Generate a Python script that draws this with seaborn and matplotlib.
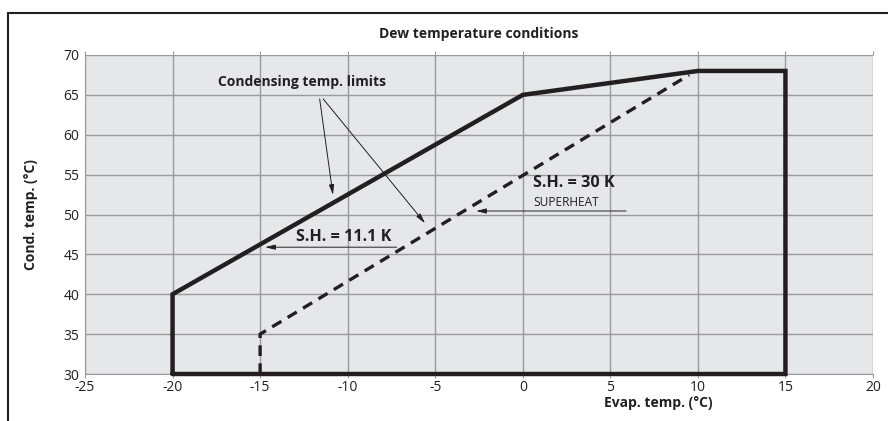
import numpy as np
import pandas as pd
import matplotlib.pyplot as plt
from matplotlib.lines import Line2D
import seaborn as sns

# envelope (solid) and superheat 30 K limit (dashed)
env_evap = [-20, -20, 0, 10, 15, 15, -20]
env_cond = [30, 40, 65, 68, 68, 30, 30]
sh_evap = [-15, -15, 9.5]
sh_cond = [30, 35, 67.5]

x_ticks = [-25, -20, -15, -10, -5, 0, 5, 10, 15, 20]
y_ticks = [30, 35, 40, 45, 50, 55, 60, 65, 70]

sns.set_style("whitegrid", {
    "axes.facecolor": "#e6e7e9",
    "grid.color": "#9a9a9a",
    "axes.edgecolor": "#9a9a9a",
})
plt.rcParams["font.family"] = ["Open Sans", "DejaVu Sans"]
plt.rcParams["axes.unicode_minus"] = False

fig = plt.figure(figsize=(8.88, 4.21), dpi=100)
ax = fig.add_axes([85 / 888, 1 - 374 / 421, 788 / 888, 319 / 421])

env = pd.DataFrame({"evap": env_evap, "cond": env_cond})
sh = pd.DataFrame({"evap": sh_evap, "cond": sh_cond})
sns.lineplot(data=env, x="evap", y="cond", sort=False, estimator=None, ax=ax,
             color="#231f20", linewidth=3.2, solid_joinstyle="miter", zorder=5,
             clip_on=False)
sns.lineplot(data=sh, x="evap", y="cond", sort=False, estimator=None, ax=ax,
             color="#231f20", linewidth=2.4, zorder=4, clip_on=False)
ax.lines[-1].set_linestyle((0, (3.2, 2.2)))

ax.set_xlim(-25, 20)
ax.set_ylim(30, 70)
ax.set_xticks(x_ticks)
ax.set_yticks(y_ticks)
ax.grid(True, linewidth=1.0)
for s in ["top", "right"]:
    ax.spines[s].set_visible(False)
ax.tick_params(axis="both", length=3, width=0.8, color="#9a9a9a", labelsize=10,
               labelcolor="#231f20", pad=1)
ax.tick_params(axis="x", top=True, bottom=True)

bold = dict(fontweight="bold", color="#231f20")
ax.set_xlabel("Evap. temp. (°C)", fontsize=10, labelpad=1, **bold)
ax.xaxis.set_label_coords((658 - 85) / 788, -0.07)
ax.set_ylabel("Cond. temp. (°C)", fontsize=10, labelpad=18, **bold)
ax.set_title("Dew temperature conditions", fontsize=10, pad=12, **bold)

ax.text(-12.6, 66.6, "Condensing temp. limits", fontsize=10, ha="center", va="center", **bold)
arrow = dict(arrowstyle="-|>,head_length=0.6,head_width=0.15", color="#231f20", lw=0.7,
             shrinkA=0, shrinkB=0)
ax.annotate("", xy=(-10.84, 52.45), xytext=(-11.6, 64.5), arrowprops=arrow)
ax.annotate("", xy=(-5.58, 48.9), xytext=(-11.4, 64.5), arrowprops=arrow)

ax.text(-10.24, 47.2, "S.H. = 11.1 K", fontsize=11.6, ha="center", va="center", **bold)
ax.annotate("", xy=(-14.72, 45.9), xytext=(-7.2, 45.9), arrowprops=arrow)

ax.text(0.6, 53.95, "S.H. = 30 K", fontsize=11.6, ha="left", va="center", **bold)
ax.text(0.6, 51.45, "SUPERHEAT", fontsize=8.6, ha="left", va="center", color="#231f20")
ax.annotate("", xy=(-2.67, 50.44), xytext=(5.9, 50.44), arrowprops=arrow)

# outer frame, open on the right and bottom
fig.add_artist(Line2D([8 / 888, 1], [1 - 13 / 421] * 2, color="#231f20", lw=1.5))
fig.add_artist(Line2D([8 / 888] * 2, [0, 1 - 13 / 421], color="#231f20", lw=1.5))

fig.savefig("out.png", dpi=100)
